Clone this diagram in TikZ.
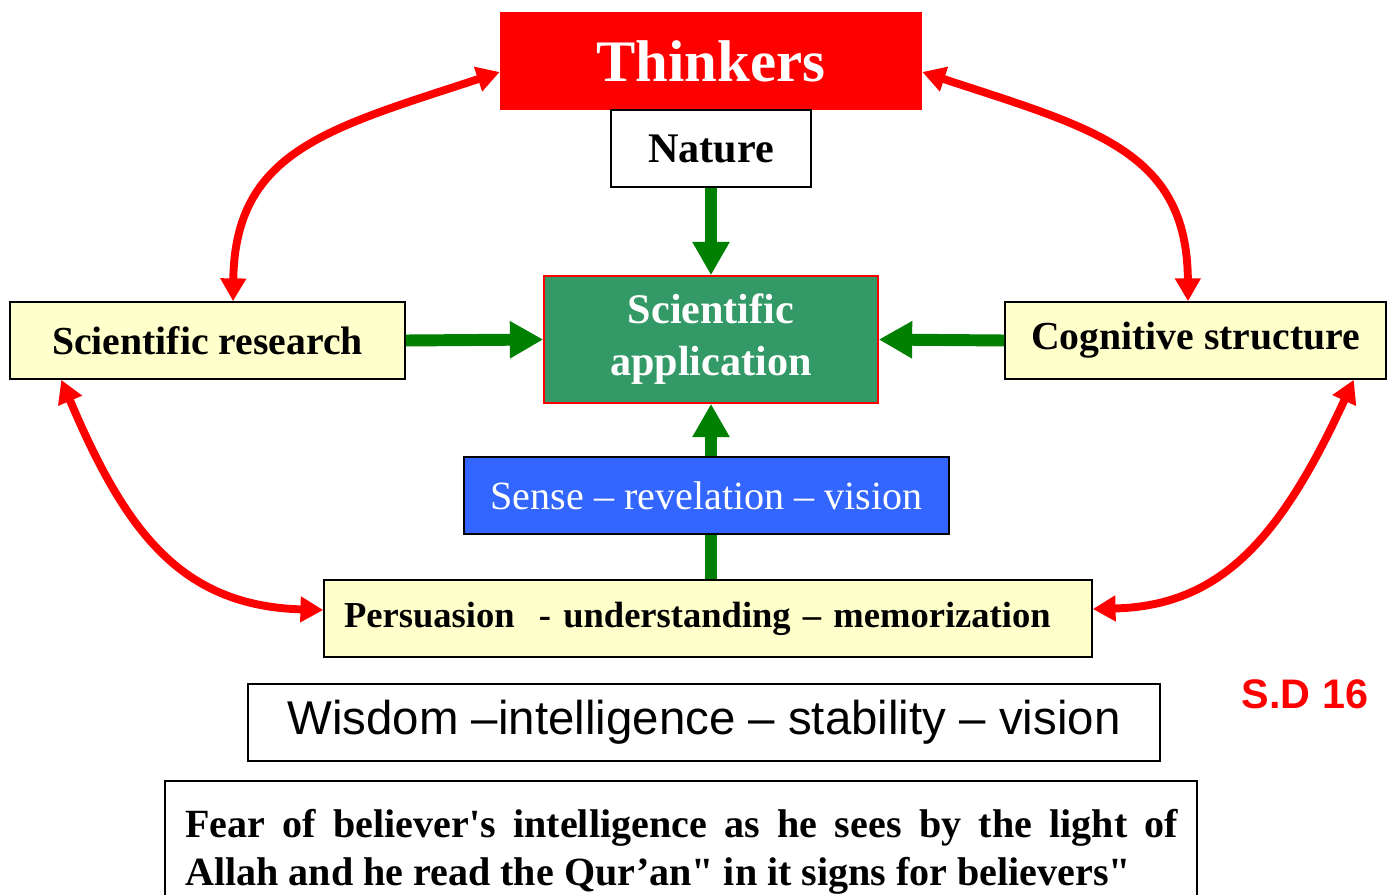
\documentclass[tikz,border=0pt]{standalone}
\usepackage{fontspec}
\setmainfont{Liberation Serif}
\newfontfamily\arialf{Liberation Sans}
\newfontfamily\rawserif{Liberation Serif}
\usetikzlibrary{arrows.meta,calc}
\definecolor{appgreen}{HTML}{339966}
\definecolor{arrgreen}{HTML}{008000}
\definecolor{paleyellow}{HTML}{FFFFCC}
\definecolor{senseblue}{HTML}{3366FF}
\definecolor{pured}{HTML}{FF0000}
\begin{document}
\begin{tikzpicture}[x=0.02cm,y=-0.02cm,
  box/.style={draw=black,line width=0.9pt,inner sep=0pt,minimum height=1.54cm,align=center},
  ybox/.style={box,fill=paleyellow},
  btxt/.style={font=\fontsize{24}{29.5}\selectfont\bfseries},
  rowtxt/.style={font=\fontsize{22.6}{27}\selectfont\bfseries},
  garr/.style={arrgreen,line width=6.8pt,-{Triangle[width=20pt,length=19pt]}},
  gline/.style={arrgreen,line width=6.8pt},
  rarr/.style={pured,line width=4.5pt,{Triangle[width=14pt,length=13pt]}-{Triangle[width=14pt,length=13pt]}}]
\clip (0,0) rectangle (1393,895);
\fill[white] (0,0) rectangle (1393,895);
% nodes
\node[fill=pured,inner sep=0pt,minimum width=8.44cm,minimum height=1.96cm,text=white,font=\fontsize{33.5}{40}\selectfont\bfseries] (thinkers) at (711,61) {Thinkers};
\node[box,fill=white,minimum width=4.0cm,btxt] (nature) at (711,148.5) {Nature};
\node[box,draw=pured,fill=appgreen,minimum width=6.68cm,minimum height=2.54cm,text=white,btxt] (app) at (711,339.5) {Scientific\\application};
\node[ybox,minimum width=7.9cm,rowtxt] (research) at (207.5,340.5) {Scientific research};
\node[ybox,minimum width=7.62cm,rowtxt] (cognitive) at (1195.5,340.5) {Cognitive structure};
\node[box,fill=senseblue,minimum width=9.7cm,text=white,font=\fontsize{22.8}{27}\selectfont] (sense) at (706.5,495.5) {Sense – revelation – vision};
\node[ybox,text width=14.56cm,inner xsep=0.4cm,align=left,font=\fontsize{20.8}{26}\selectfont\bfseries] (persuasion) at (708,618.5) {Persuasion\ \ - understanding – memorization};
\node[box,minimum width=18.24cm,font=\arialf\fontsize{27}{32}\selectfont] (wisdom) at (704,722.5) {Wisdom –intelligence – stability – vision};
\node[text=pured,font=\arialf\fontsize{23.5}{28}\selectfont\bfseries,inner sep=0pt] (sd) at (1305,694) {S.D 16};
% fear box (cut off at bottom)
\draw[line width=1.2pt] (165,905) |- (1197,781) -- (1197,905);
\node[anchor=north west,inner sep=0pt,text width=19.86cm,align=justify,font=\rawserif\fontsize{22.8}{27.2}\selectfont\bfseries] (fear) at (185,809) {Fear of believer's intelligence as he sees by the light of\linebreak Allah and he read the Qur’an" in it signs for believers"\par};
% green arrows
\draw[garr] (nature.south) -- (app.north);
\draw[garr] (research.east) -- (app.west);
\draw[garr] (cognitive.west) -- (app.east);
\draw[garr] (sense.north -| app.south) -- (app.south);
\draw[gline] (persuasion.north -| app.south) -- (sense.south -| app.south);
% red curved double arrows
\draw[rarr] ($(research.north)+(25.5,0)$) .. controls (235,150) and (330,128) .. ($(thinkers.west)+(0,11)$);
\draw[rarr] ($(cognitive.north)+(-7.5,0)$) .. controls (1187,150) and (1092,128) .. ($(thinkers.east)+(0,11)$);
\draw[rarr] ($(research.south west)+(52,0)$) .. controls (125,530) and (180,606) .. ($(persuasion.west)+(0,-8.5)$);
\draw[rarr] ($(cognitive.south east)+(-33,0)$) .. controls (1280,540) and (1220,606) .. ($(persuasion.east)+(0,-9.5)$);
\end{tikzpicture}
\end{document}
